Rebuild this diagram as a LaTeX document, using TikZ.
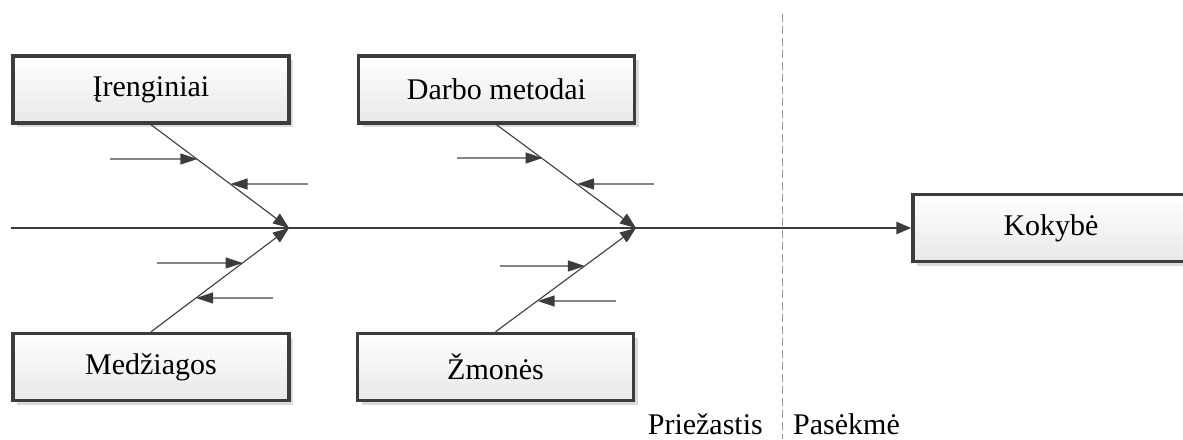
\documentclass[tikz,border=0pt]{standalone}
\usepackage{fontspec}
\setmainfont{Liberation Serif}
\usetikzlibrary{arrows.meta,shadows,calc}
\definecolor{edge}{HTML}{3C3C3C}
\definecolor{twig}{HTML}{858585}
\definecolor{divider}{HTML}{9A9A9A}
\begin{document}
\begin{tikzpicture}[x=1pt,y=-1pt,
  catbox/.style={draw=edge,line width=3.4pt,top color=white,bottom color=black!9,
    minimum width=276pt,minimum height=67pt,inner sep=0pt,
    font=\fontsize{30}{35}\selectfont,
    drop shadow={shadow xshift=4pt,shadow yshift=-4pt,fill=black!20,opacity=0.7}},
  spine/.style={draw=edge,line width=2.6pt,-{Triangle[length=15pt,width=12pt]}},
  bone/.style={draw=edge,line width=1.1pt,-{Triangle[length=16pt,width=12pt,fill=edge]}},
  twigarrow/.style={draw=twig,line width=1.4pt,-{Triangle[length=17pt,width=11pt,color=edge,fill=edge]}},
  sidelabel/.style={font=\fontsize{30}{35}\selectfont,inner sep=0pt}]
\useasboundingbox (0,0) rectangle (1183,439);

% category boxes
\node[catbox] (iren) at (151,89.5) {Įrenginiai};
\node[catbox] (darbo) at (496.5,89.5) {Darbo metodai};
\node[catbox] (medz) at (151,367) {Medžiagos};
\node[catbox] (zmon) at (495.5,367) {Žmonės};
\node[catbox] (kok) at (1051,228) {Kokybė};

% joints on the spine
\coordinate (s0) at (11,228);
\coordinate (j1) at (289,228);
\coordinate (j2) at (636,228);

% divider between causes and effect
\coordinate (dtop) at (782,14);
\coordinate (dbot) at (782,439);
\draw[divider,line width=1pt,dash pattern=on 8pt off 4pt] (dtop) -- (dbot);
\node[sidelabel,anchor=base east] (cause) at (763,434) {Priežastis};
\node[sidelabel,anchor=base west] (effect) at (793,434) {Pasėkmė};

% spine
\draw[spine] (s0) -- (kok.west);

% main bones
\draw[bone] (iren.south) -- (j1);
\draw[bone] (medz.north) -- (j1);
\draw[bone] (darbo.south) -- (j2);
\draw[bone] (zmon.north) -- (j2);

% sub-cause arrows
\coordinate (a1s) at (110,159);  \coordinate (a1t) at (197.4,159);
\coordinate (a2s) at (308,184);  \coordinate (a2t) at (230.6,184);
\coordinate (a3s) at (157,263);  \coordinate (a3t) at (242.6,263);
\coordinate (a4s) at (273,298);  \coordinate (a4t) at (196.1,298);
\coordinate (b1s) at (457,158);  \coordinate (b1t) at (542.5,158);
\coordinate (b2s) at (654,184);  \coordinate (b2t) at (577.2,184);
\coordinate (b3s) at (500,266);  \coordinate (b3t) at (584.8,266);
\coordinate (b4s) at (616,301);  \coordinate (b4t) at (537.7,301);
\foreach \s/\t in {a1s/a1t,a2s/a2t,a3s/a3t,a4s/a4t,b1s/b1t,b2s/b2t,b3s/b3t,b4s/b4t}
  \draw[twigarrow] (\s) -- (\t);
\end{tikzpicture}
\end{document}
